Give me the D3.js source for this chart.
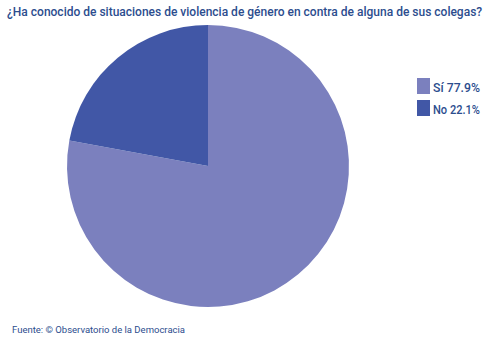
<!DOCTYPE html>
<html>
<head>
<meta charset="utf-8">
<script src="https://cdn.jsdelivr.net/npm/d3@7"></script>
<style>
  body { margin: 0; background: #fff; }
  text { font-family: Roboto, "Noto Sans", sans-serif; }
</style>
</head>
<body>
<div id="chart"></div>
<script>
const categories = ["Sí", "No"];
const values = [77.9, 22.1];
const colors = ["#7b80be", "#4157a6"];
const title = "¿Ha conocido de situaciones de violencia de género en contra de alguna de sus colegas?";
const source = "Fuente: © Observatorio de la Democracia";

const width = 485, height = 337;
const svg = d3.select("#chart").append("svg")
  .attr("width", width)
  .attr("height", height);

svg.append("text")
  .attr("x", 7)
  .attr("y", 16)
  .attr("fill", "#2c4d8e")
  .style("font-size", "12px")
  .style("font-weight", 500)
  .text(title);

// pie: first slice starts at 12 o'clock going clockwise
const data = categories.map((c, i) => ({ name: c, value: values[i], color: colors[i] }));
const pie = d3.pie().sort(null).value(d => d.value);
const arc = d3.arc().innerRadius(0).outerRadius(141);

const g = svg.append("g").attr("transform", "translate(208,166)");
g.selectAll("path")
  .data(pie(data))
  .enter().append("path")
    .attr("d", arc)
    .attr("fill", d => d.data.color);

// legend
const leg = svg.selectAll("g.leg")
  .data(data)
  .enter().append("g")
    .attr("class", "leg")
    .attr("transform", (d, i) => `translate(417,${78 + i * 22})`);

leg.append("rect")
  .attr("width", 13)
  .attr("height", 16)
  .attr("fill", d => d.color);

leg.append("text")
  .attr("x", 16)
  .attr("y", 14)
  .attr("fill", "#2c4d8e")
  .attr("textLength", 47)
  .attr("lengthAdjust", "spacingAndGlyphs")
  .style("font-size", "12.5px")
  .style("font-weight", 500)
  .text(d => `${d.name} ${d.value}%`);

svg.append("text")
  .attr("x", 12)
  .attr("y", 333)
  .attr("fill", "#2c4d8e")
  .attr("textLength", 173)
  .attr("lengthAdjust", "spacingAndGlyphs")
  .style("font-size", "9.5px")
  .text(source);
</script>
</body>
</html>
